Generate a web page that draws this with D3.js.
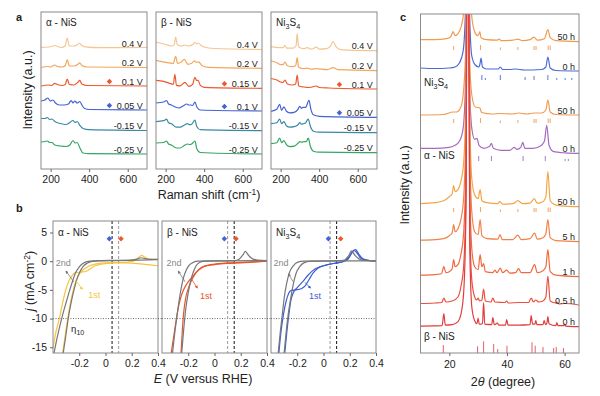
<!DOCTYPE html>
<html>
<head>
<meta charset="utf-8">
<script src="https://cdn.jsdelivr.net/npm/d3@7"></script>
<style>
  body { margin: 0; background: #fff; }
  text { font-family: "Liberation Sans", Arial, sans-serif; fill: #222; }
</style>
</head>
<body>
<svg id="fig" width="600" height="396"></svg>
<script>
// ---------- panel a : in-situ Raman ----------
const ramanPhases = ["α - NiS", "β - NiS", "Ni3S4"];
const alphaVolts = ["0.4 V", "0.2 V", "0.1 V", "0.05 V", "-0.15 V", "-0.25 V"];
const betaVolts = ["0.4 V", "0.2 V", "0.15 V", "0.1 V", "-0.15 V", "-0.25 V"];
const ni3s4Volts = ["0.4 V", "0.2 V", "0.1 V", "0.05 V", "-0.15 V", "-0.25 V"];
const ramanColors = ["#f6c590", "#f3a65d", "#ea5a2e", "#4663d3", "#3b8aa3", "#37a565"];
const alphaOffsets = [121, 101.5, 83, 59, 38.5, 15];
const betaOffsets = [119.5, 100.7, 80.7, 58, 38.3, 15];
const ni3s4Offsets = [118.3, 98.3, 80, 51.7, 36.3, 16.3];

// [Raman shift, height above baseline]
const alphaSpectra = [
  [[150,0.5],[190,1],[205,1.5],[221,2.5],[235,1.5],[255,0.5],[275,2],[286,10],[297,2],[320,2],[340,3.5],[350,5],[362,2.5],[390,0.8],[450,0.3],[700,0.5]],
  [[150,0],[185,1],[200,0.5],[221,2.5],[235,1],[260,0.5],[276,2],[286,8],[297,1.5],[320,1.5],[340,3],[351,4.7],[362,2],[390,0.5],[700,0]],
  [[150,0],[190,1],[205,0.5],[221,2.7],[235,1.5],[260,0.5],[276,1.5],[286,7],[297,1.5],[320,1],[340,3.5],[351,5.7],[362,2],[390,0.5],[700,0]],
  [[150,9],[170,10],[186,12],[198,9],[212,10],[225,7],[245,5],[270,5],[292,6],[300,8],[307,9.5],[316,7],[325,9],[338,7],[351,8.5],[365,4],[377,1.5],[400,0.5],[700,0]],
  [[150,12],[170,12],[183,13],[195,11],[207,11.5],[222,9],[250,7],[280,6],[300,8],[316,10],[327,8],[338,9],[352,5],[368,2],[400,0.8],[700,0]],
  [[150,12],[170,12.5],[183,13],[195,11.5],[207,11.5],[222,9],[250,8],[280,7.5],[300,9],[316,13.5],[327,11],[338,11.5],[352,6],[368,1],[400,0.3],[700,0]]
];
const betaSpectra = [
  [[150,7.5],[200,5],[235,3.5],[245,5],[252,12.5],[260,5],[280,3.5],[300,4.5],[320,3.5],[340,5],[352,7],[360,5.5],[370,6.5],[385,4],[400,2.5],[450,1],[700,0]],
  [[150,8],[200,6],[240,5],[252,12],[262,5],[280,6],[297,9],[315,4],[335,5],[350,7.5],[360,6],[370,6.5],[390,2.5],[420,1],[700,0]],
  [[150,8],[190,7],[220,5],[240,4],[248,14],[256,3],[275,2.5],[300,6],[320,2],[340,4],[352,11],[360,8],[368,8],[380,3],[400,1],[700,0]],
  [[150,8],[190,9],[205,10.5],[215,7],[230,6],[250,4],[270,3],[290,5],[310,7],[320,6],[330,6],[340,5.5],[352,9],[362,4],[380,1],[700,0]],
  [[150,9],[190,10],[205,11.5],[215,8],[230,7],[255,3.5],[275,3.5],[300,6],[312,7],[325,6],[335,6.5],[352,10.5],[362,4],[380,1],[700,0]],
  [[150,11],[190,11.5],[205,13],[215,10],[230,9],[255,6],[275,6],[300,9],[312,10],[325,9.5],[335,10],[352,13],[362,5],[380,1.5],[700,0]]
];
const ni3s4Spectra = [
  [[150,4],[190,3],[212,3],[222,5],[232,2.5],[265,2.5],[280,5],[286,17],[293,4],[320,2],[337,3],[360,1.5],[385,3.5],[400,1.5],[440,2],[460,5],[472,9],[488,4],[510,1],[550,0.5],[700,0]],
  [[150,10],[180,8],[200,6],[212,6],[222,8.5],[235,5],[260,4],[278,5],[286,13],[293,3.5],[320,2],[337,2.5],[360,1.5],[385,2],[440,1],[472,3],[500,1],[700,0]],
  [[150,10.5],[180,9],[200,7],[212,6.5],[222,9],[235,5],[260,4],[278,5],[286,14],[294,3],[320,2],[350,1.5],[385,3],[400,1.5],[450,1],[700,0]],
  [[150,6],[180,8],[195,13],[205,7],[217,10.5],[230,6],[247,4.5],[270,5],[290,8],[299,11],[308,9],[316,10],[330,10],[347,17],[357,8],[370,2.5],[400,1],[700,0]],
  [[150,9],[180,10],[195,13.5],[205,9],[217,11],[230,7],[247,5.5],[270,6],[290,8],[299,10],[308,8.5],[318,9],[330,10],[343,13.5],[355,6],[370,1.5],[400,0.5],[700,0]],
  [[150,9],[180,10],[195,14.5],[205,10],[217,12],[230,8],[247,6],[270,6.5],[290,9.5],[300,11],[310,10.5],[320,11],[333,11],[343,14.5],[355,6],[370,1.5],[400,0.5],[700,0]]
];
const ramanTicks = [200, 400, 600];

// ---------- panel b : LSV ----------
const lsvTicksX = [-0.2, 0, 0.2, 0.4];
const lsvTicksY = [5, 0, -5, -10, -15];
const lsvColors = ["#f5c53f", "#e9542b", "#3d5dd2"];
// [E, j]
const alpha2ndA = [[-0.392,-16],[-0.37,-13.5],[-0.334,-10],[-0.30,-7.2],[-0.272,-5],[-0.25,-3.4],[-0.23,-2.1],[-0.20,-1.0],[-0.17,-0.35],[-0.12,0],[-0.05,0.1],[0.1,0.15],[0.2,0.2],[0.24,0.35],[0.27,0.6],[0.3,0.45],[0.34,0.3],[0.4,0.3]];
const alpha2ndB = [[-0.322,-16],[-0.30,-12.6],[-0.284,-10],[-0.26,-7],[-0.24,-5],[-0.22,-3.3],[-0.196,-1.9],[-0.17,-0.9],[-0.14,-0.35],[-0.10,-0.05],[-0.05,0.05],[0.1,0.1],[0.25,0.2],[0.4,0.25]];
const alpha1stA = [[-0.40,-15.2],[-0.38,-12.6],[-0.352,-10],[-0.33,-7.6],[-0.305,-5.2],[-0.28,-3.5],[-0.255,-2.5],[-0.23,-2.0],[-0.19,-1.9],[-0.15,-1.8],[-0.12,-1.4],[-0.08,-0.8],[-0.03,-0.5],[0.05,-0.3],[0.15,-0.2],[0.21,0],[0.25,0.6],[0.275,1.0],[0.3,0.7],[0.34,0.35],[0.4,0.3]];
const alpha1stB = [[-0.326,-16],[-0.305,-12.6],[-0.288,-10],[-0.265,-7],[-0.245,-5],[-0.225,-3.4],[-0.2,-2.3],[-0.17,-1.5],[-0.13,-0.9],[-0.08,-0.5],[0,-0.3],[0.1,-0.25],[0.2,-0.35],[0.3,-0.55],[0.4,-0.8]];
const beta2ndA = [[-0.32,-16],[-0.30,-12],[-0.28,-8.5],[-0.26,-5.5],[-0.24,-3.2],[-0.22,-1.8],[-0.20,-0.9],[-0.17,-0.3],[-0.13,0],[0,0.05],[0.15,0.1],[0.19,0.4],[0.22,1.2],[0.235,1.7],[0.26,1.0],[0.29,0.4],[0.33,0.2],[0.4,0.1]];
const beta2ndB = [[-0.25,-16],[-0.235,-12],[-0.22,-8.5],[-0.20,-5.5],[-0.18,-3.3],[-0.16,-1.8],[-0.14,-0.8],[-0.11,-0.2],[-0.07,0],[0.1,0.05],[0.4,0.1]];
const beta1stA = [[-0.33,-16],[-0.31,-13],[-0.29,-10],[-0.27,-7.5],[-0.25,-5.8],[-0.22,-4.3],[-0.19,-3.3],[-0.16,-2.5],[-0.12,-1.5],[-0.08,-0.9],[0,-0.6],[0.1,-0.4],[0.2,-0.3],[0.3,-0.15],[0.4,0]];
const beta1stB = [[-0.255,-16],[-0.245,-12],[-0.235,-9],[-0.22,-6.5],[-0.20,-4.8],[-0.18,-3.6],[-0.15,-2.3],[-0.12,-1.5],[-0.08,-0.9],[0,-0.5],[0.1,-0.3],[0.2,-0.2],[0.3,-0.1],[0.4,0]];
const ni3s42ndA = [[-0.345,-16],[-0.33,-12.5],[-0.315,-9.5],[-0.30,-6.5],[-0.28,-3.8],[-0.26,-2.0],[-0.23,-0.8],[-0.20,-0.2],[-0.15,0],[0.1,0.05],[0.16,0.2],[0.19,0.9],[0.214,1.8],[0.24,1.0],[0.27,0.4],[0.31,0.15],[0.4,0.1]];
const ni3s42ndB = [[-0.30,-16],[-0.285,-12.5],[-0.27,-9.5],[-0.25,-6.5],[-0.23,-4],[-0.21,-2.2],[-0.18,-0.9],[-0.15,-0.3],[-0.10,0],[0.1,0.05],[0.4,0.05]];
const ni3s41stA = [[-0.34,-16],[-0.325,-12.5],[-0.306,-9.4],[-0.285,-7],[-0.265,-5.6],[-0.245,-5.1],[-0.21,-5.0],[-0.17,-4.8],[-0.14,-4.3],[-0.11,-3.2],[-0.08,-2.1],[-0.04,-1.2],[0.02,-0.7],[0.1,-0.3],[0.15,-0.1],[0.19,0.6],[0.22,1.6],[0.245,2.0],[0.27,1.2],[0.30,0.4],[0.35,0.1],[0.4,0]];
const ni3s41stB = [[-0.295,-16],[-0.28,-12.5],[-0.265,-9.5],[-0.25,-7],[-0.23,-5.5],[-0.20,-4.6],[-0.16,-3.6],[-0.12,-2.5],[-0.08,-1.6],[-0.03,-1.0],[0.05,-0.5],[0.12,-0.2],[0.18,0.2],[0.21,1.2],[0.23,1.9],[0.25,1.6],[0.28,0.6],[0.32,0.2],[0.4,0.05]];
const lsvGuides = [[0.05, 0.1], [0.1, 0.15], [0.05, 0.1]];
const lsvGuideDark = [0, 1, 1];          // which guide is drawn black
const lsvMarkerE = [[0.029, 0.118], [0.075, 0.164], [0.037, 0.131]];
const lsvMarkerJ = 3.9;
// label anchor [E, j] and arrow [from, to]
const label2nd = [[-0.322, -0.9], [-0.308, -0.9], [-0.324, -0.9]];
const arrow2nd = [[[-0.242,-3.6],[-0.302,-1.7]], [[-0.224,-3.6],[-0.277,-1.7]], [[-0.23,-3.6],[-0.268,-2.2]]];
const label1st = [[-0.085, -6.5], [-0.064, -6.6], [-0.065, -6.6]];
const arrow1st = [[[-0.226,-3.4],[-0.176,-4.9]], [[-0.173,-3.2],[-0.13,-4.7]], [[-0.141,-3.7],[-0.098,-4.7]]];

// ---------- panel c : XRD ----------
const xrdTicks = [20, 40, 60];
const xrdLabels = ["50 h", "0 h", "50 h", "0 h", "50 h", "5 h", "1 h", "0.5 h", "0 h"];
const xrdColors = ["#f19b50", "#4a6bd6", "#f19b50", "#a46cc0", "#f5a445", "#f2824a", "#ef6a3f", "#e9503f", "#e23c3c"];
const xrdOffsets = [311.3, 282, 238, 199.7, 146.3, 111.3, 76.3, 48, 26.3];
// [2theta, height above baseline]
const ni3s4Aged = [[10,2],[15,2],[19,3],[20.5,5],[21.3,10],[22,6],[23,8],[24,14],[25,30],[25.8,90],[26.2,400],[26.6,400],[27.1,80],[27.8,25],[28.8,10],[29.8,6],[30.3,8],[30.6,10],[31,4],[33,2],[36.5,1.5],[37.3,2.5],[38,1],[42,1.5],[43.8,2.5],[45.5,1],[48,2],[49.4,4.5],[50.5,1.5],[53,3],[54.2,12],[55,4],[57,1],[65,0]];
const ni3s4Fresh = [[10,3],[15,2.5],[20,3],[22,4],[23.5,8],[24.8,20],[25.6,60],[26.1,400],[26.5,400],[27,60],[27.8,15],[29,6],[30.3,4],[30.7,8],[31,13],[31.5,4],[33,2],[37,2],[37.7,4],[38.5,1.5],[41,1.5],[43,2],[46,1],[52,1.5],[53.5,4],[54.2,14],[55,3],[57,0.5],[65,0]];
const alphaAged = [[10,0],[18,0.5],[21.3,3],[22.5,3],[24,8],[24.8,20],[25.6,60],[26.1,400],[26.5,400],[27,60],[27.8,20],[29,8],[30.6,7],[31.2,2.5],[35,1],[37.5,1.5],[42,1],[44,2],[47,1],[49.4,2],[52,2],[53.5,5],[54.2,15],[55,3],[57,0.5],[65,0]];
const alphaFresh = [[10,5],[15,5],[20,6],[22,8],[23.5,12],[24.8,25],[25.6,70],[26.1,400],[26.5,400],[27,70],[27.8,25],[28.8,14],[29.6,15],[30.3,8],[32,5],[34,7],[34.6,10],[35.3,5],[38,3],[41,3],[42.5,6],[43.5,4],[44.8,6],[45.5,11],[46.2,5],[49,5],[51.5,7],[53,12],[53.8,28],[54.6,8],[56,2],[60,0.5],[65,0]];
const beta50h = [[10,3],[15,4],[18,6],[20,10],[21,13],[21.5,21],[22,15],[23,17],[24,25],[25,45],[25.8,120],[26.2,400],[26.6,400],[27.1,90],[27.8,28],[28.8,12],[30,8],[30.7,17],[31.3,6],[33,4],[36.7,3],[37.5,5],[38.5,2.5],[42,3],[43.8,6],[45.5,3],[48,3.5],[49.5,8],[50.5,3.5],[52.5,5],[53.5,10],[54.2,35],[55,6],[57,1.5],[60,0.5],[65,0]];
const beta5h = [[10,1.5],[15,2],[18,3],[20,6],[21,9],[21.5,17],[22,10],[23,13],[24,22],[25,45],[25.8,120],[26.2,400],[26.6,400],[27.1,90],[27.8,30],[28.8,10],[30,7],[30.7,22],[31.3,6],[33,3],[36.8,2.5],[37.6,7],[38.4,2],[42,2],[43.8,6.5],[45,2],[48,3],[49.6,8.5],[50.5,2.5],[52.5,4],[53.5,8],[54.2,22],[55,4],[57,1],[65,0]];
const beta1h = [[10,1.5],[15,2],[17.3,3],[18.1,10],[18.8,4],[20,5],[21,8],[21.5,17],[22,10],[23,12],[24,22],[25,45],[25.8,120],[26.2,400],[26.6,400],[27.1,90],[27.8,28],[28.8,10],[30,7],[30.7,22],[31.3,10],[31.9,13],[32.5,5],[35,4],[35.9,6.5],[36.5,4],[37.7,8.5],[38.5,4],[39.9,6.5],[41,3.5],[43,4],[44,8],[45,4],[48,4],[49.6,12],[50.5,4],[52.5,6],[53.5,10],[54.2,27],[55,5],[57,1.5],[65,0]];
const beta05h = [[10,1.5],[15,2],[17.4,2.5],[18.1,7],[18.8,3],[21,4],[23,8],[24,18],[25,40],[25.8,120],[26.2,400],[26.6,400],[27.1,80],[27.8,25],[28.8,8],[29.5,5],[30,7],[30.5,4],[31.3,5],[31.9,16],[32.5,4],[34.5,3],[35.1,7],[35.8,3],[39.3,2.5],[39.9,4],[40.5,2],[44,2.5],[47.5,2.5],[48.4,7],[49.2,3],[50,5],[51,3],[52.5,4],[53.5,8],[54.2,29],[55,4],[57,2],[57.3,3],[58,1],[60,1.5],[65,0]];
const beta0h = [[10,0.5],[15,0.8],[17.5,1],[18.1,13],[18.6,1.5],[21,2],[23,5],[24,12],[25,35],[25.8,120],[26.2,400],[26.6,400],[27.1,80],[27.8,20],[28.8,6],[29.6,3],[30,8.5],[30.4,2.5],[31.5,3],[31.9,24],[32.3,2.5],[34.7,2],[35.1,9],[35.6,2],[36.7,3.5],[37.2,1.5],[39.5,1.5],[39.9,7],[40.4,1.5],[44,1.5],[48,2],[48.4,11],[48.9,2.5],[49.7,2.5],[50,6],[50.4,2],[52.5,2],[52.9,6],[53.4,2],[53.9,4],[54.2,10],[54.6,3],[57,1],[57.3,4],[57.7,1],[59.7,1],[60,2.5],[60.4,0.5],[65,0]];
const xrdPatterns = [ni3s4Aged, ni3s4Fresh, alphaAged, alphaFresh, beta50h, beta5h, beta1h, beta05h, beta0h];
// reference sticks [2theta, height]
const agedRefTicks = [[21.5,4],[30.8,5],[37.7,2.5],[43.8,3],[49.4,4],[50.1,4],[54.3,4.5],[55,4.5]];
const agedRefBases = [303, 230, 141];
const ni3s4RefTicks = [[31.3,5],[32.5,2],[37.7,5],[46.3,3],[49.4,4],[54.2,5],[57.3,2],[60.2,2],[62.5,2]];
const ni3s4RefBase = 273;
const alphaRefTicks = [[30.2,5],[34.6,5],[45.6,5],[53.3,5],[60.2,2],[61.3,2]];
const alphaRefBase = 192;
const betaRefTicks = [[17.9,8],[29.8,6.7],[31.9,11.7],[35.4,9],[36.8,4],[40,7.3],[48.7,10.7],[49.8,7.3],[52.5,6],[56.2,5],[57.1,6],[59.6,5]];
const betaRefBase = 0;

// ---------- drawing ----------
const svg = d3.select("#fig");
const frameColor = "#8a8a8a";
const defs = svg.append("defs");
let clipId = 0;

function clipRect(x, y, w, h) {
  const id = "clip" + (clipId++);
  defs.append("clipPath").attr("id", id).append("rect")
    .attr("x", x).attr("y", y).attr("width", w).attr("height", h);
  return "url(#" + id + ")";
}

function phaseText(g, name, x, y, size) {
  const t = g.append("text").attr("x", x).attr("y", y).attr("font-size", size);
  if (name === "Ni3S4") {
    const s = size * 0.28;
    t.append("tspan").text("Ni");
    t.append("tspan").attr("dy", s).attr("font-size", size * 0.72).text("3");
    t.append("tspan").attr("dy", -s).text("S");
    t.append("tspan").attr("dy", s).attr("font-size", size * 0.72).text("4");
  } else {
    t.text(name);
  }
  return t;
}

function styleAxis(g, size) {
  g.select(".domain").remove();
  g.selectAll(".tick line").attr("stroke", "#666");
  g.selectAll(".tick text").attr("font-size", size).attr("fill", "#222")
    .attr("font-family", "Liberation Sans, Arial, sans-serif");
}

const plainFmt = d => String(d);
// small rotated-square marker used for the chosen potentials
const markSymbol = d3.symbol(d3.symbolSquare, 15);

// panel a
const ramanLeft = [41, 156, 271], ramanW = 106, ramanTop = 12, ramanBottom = 169;
const ramanVolts = [alphaVolts, betaVolts, ni3s4Volts];
const ramanOffsets = [alphaOffsets, betaOffsets, ni3s4Offsets];
const ramanSpectra = [alphaSpectra, betaSpectra, ni3s4Spectra];
const ramanY = d3.scaleLinear().domain([0, 157]).range([ramanBottom, ramanTop]);

ramanPhases.forEach((name, i) => {
  const x = d3.scaleLinear().domain([150, 700]).range([ramanLeft[i], ramanLeft[i] + ramanW]);
  const g = svg.append("g");
  const line = off => d3.line().x(d => x(d[0])).y(d => ramanY(off + d[1])).curve(d3.curveMonotoneX);
  g.append("g").attr("clip-path", clipRect(ramanLeft[i], ramanTop, ramanW, ramanBottom - ramanTop))
    .selectAll("path").data(ramanSpectra[i]).join("path")
    .attr("d", (s, k) => line(ramanOffsets[i][k])(s))
    .attr("fill", "none")
    .attr("stroke", (s, k) => ramanColors[k])
    .attr("stroke-width", 1.2);
  g.selectAll("text.volt").data(ramanVolts[i]).join("text").attr("class", "volt")
    .attr("x", x(678)).attr("y", (v, k) => ramanY(ramanOffsets[i][k] + 4.5))
    .attr("dy", "0.35em").attr("text-anchor", "end").attr("font-size", 9).text(v => v);
  g.selectAll("path.mark").data([2, 3]).join("path").attr("class", "mark")
    .attr("d", markSymbol)
    .attr("transform", k => `translate(${x(505)},${ramanY(ramanOffsets[i][k] + 4.5)}) rotate(45)`)
    .attr("fill", k => ramanColors[k]);
  phaseText(g, name, ramanLeft[i] + 5, 26, 10);
  g.append("rect").attr("x", ramanLeft[i]).attr("y", ramanTop)
    .attr("width", ramanW).attr("height", ramanBottom - ramanTop)
    .attr("fill", "none").attr("stroke", frameColor);
  g.append("g").attr("transform", `translate(0,${ramanBottom})`)
    .call(d3.axisBottom(x).tickValues(ramanTicks).tickSize(3).tickPadding(4).tickFormat(plainFmt))
    .call(a => styleAxis(a, 10.5));
});

svg.append("text").attr("x", 16).attr("y", 21).attr("font-size", 11).attr("font-weight", "bold").text("a");
svg.append("text").attr("transform", "translate(32,90) rotate(-90)").attr("text-anchor", "middle")
  .attr("font-size", 12.5).text("Intensity (a.u.)");
const ramanLabel = svg.append("text").attr("x", 209).attr("y", 199).attr("text-anchor", "middle").attr("font-size", 12.5);
ramanLabel.append("tspan").text("Raman shift (cm");
ramanLabel.append("tspan").attr("dy", -4).attr("font-size", 8.5).text("-1");
ramanLabel.append("tspan").attr("dy", 4).text(")");

// panel b
const lsvLeft = [53, 162, 271], lsvW = 105, lsvTop = 221, lsvBottom = 353;
const lsvY = d3.scaleLinear().domain([-16, 7]).range([lsvBottom, lsvTop]);
const lsvGray = [[alpha2ndA, alpha2ndB], [beta2ndA, beta2ndB], [ni3s42ndA, ni3s42ndB]];
const lsvFirst = [[alpha1stA, alpha1stB], [beta1stA, beta1stB], [ni3s41stA, ni3s41stB]];

function arrowMarker(color, id) {
  defs.append("marker").attr("id", id).attr("viewBox", "0 0 6 6").attr("refX", 5).attr("refY", 3)
    .attr("markerWidth", 4).attr("markerHeight", 4).attr("orient", "auto")
    .append("path").attr("d", "M0,0L6,3L0,6Z").attr("fill", color);
}
arrowMarker("#777", "arrGray");
lsvColors.forEach((c, i) => arrowMarker(c, "arr" + i));

ramanPhases.forEach((name, i) => {
  const x = d3.scaleLinear().domain([-0.4, 0.4]).range([lsvLeft[i], lsvLeft[i] + lsvW]);
  const g = svg.append("g");
  const line = d3.line().x(d => x(d[0])).y(d => lsvY(d[1])).curve(d3.curveMonotoneX);
  const plot = g.append("g").attr("clip-path", clipRect(lsvLeft[i], lsvTop, lsvW, lsvBottom - lsvTop));
  plot.append("line").attr("x1", x(-0.4)).attr("x2", x(0.4)).attr("y1", lsvY(-10)).attr("y2", lsvY(-10))
    .attr("stroke", "#444").attr("stroke-width", 0.8).attr("stroke-dasharray", "1,1.5");
  plot.selectAll("line.guide").data(lsvGuides[i]).join("line").attr("class", "guide")
    .attr("x1", d => x(d)).attr("x2", d => x(d)).attr("y1", lsvTop).attr("y2", lsvBottom)
    .attr("stroke", (d, k) => k === lsvGuideDark[i] ? "#111" : "#999")
    .attr("stroke-width", 1).attr("stroke-dasharray", "3,2");
  plot.selectAll("path.first").data(lsvFirst[i]).join("path").attr("class", "first")
    .attr("d", line).attr("fill", "none").attr("stroke", lsvColors[i]).attr("stroke-width", 1.2);
  plot.selectAll("path.second").data(lsvGray[i]).join("path").attr("class", "second")
    .attr("d", line).attr("fill", "none").attr("stroke", "#777").attr("stroke-width", 1.2);
  g.selectAll("path.mark").data(lsvMarkerE[i]).join("path").attr("class", "mark")
    .attr("d", markSymbol)
    .attr("transform", d => `translate(${x(d)},${lsvY(lsvMarkerJ)}) rotate(45)`)
    .attr("fill", (d, k) => k === 0 ? ramanColors[3] : ramanColors[2]);
  // annotations
  g.append("text").attr("x", x(label2nd[i][0])).attr("y", lsvY(label2nd[i][1]))
    .attr("text-anchor", "middle").attr("font-size", 9).style("fill", "#888").text("2nd");
  g.append("line").attr("x1", x(arrow2nd[i][0][0])).attr("y1", lsvY(arrow2nd[i][0][1]))
    .attr("x2", x(arrow2nd[i][1][0])).attr("y2", lsvY(arrow2nd[i][1][1]))
    .attr("stroke", "#777").attr("stroke-width", 0.8).attr("marker-end", "url(#arrGray)");
  g.append("text").attr("x", x(label1st[i][0])).attr("y", lsvY(label1st[i][1]))
    .attr("text-anchor", "middle").attr("font-size", 9).style("fill", lsvColors[i]).text("1st");
  g.append("line").attr("x1", x(arrow1st[i][0][0])).attr("y1", lsvY(arrow1st[i][0][1]))
    .attr("x2", x(arrow1st[i][1][0])).attr("y2", lsvY(arrow1st[i][1][1]))
    .attr("stroke", lsvColors[i]).attr("stroke-width", 0.8).attr("marker-end", `url(#arr${i})`);
  if (i === 0) {
    const eta = g.append("text").attr("x", x(-0.262)).attr("y", lsvY(-12.4)).attr("font-size", 9.5);
    eta.append("tspan").text("η");
    eta.append("tspan").attr("dy", 2.5).attr("font-size", 7).text("10");
  }
  phaseText(g, name, lsvLeft[i] + 5, 236, 10);
  g.append("rect").attr("x", lsvLeft[i]).attr("y", lsvTop)
    .attr("width", lsvW).attr("height", lsvBottom - lsvTop)
    .attr("fill", "none").attr("stroke", frameColor);
  g.append("g").attr("transform", `translate(0,${lsvBottom})`)
    .call(d3.axisBottom(x).tickValues(lsvTicksX).tickSize(3).tickPadding(4).tickFormat(plainFmt))
    .call(a => styleAxis(a, 10.5));
  if (i === 0) {
    g.append("g").attr("transform", `translate(${lsvLeft[0]},0)`)
      .call(d3.axisLeft(lsvY).tickValues(lsvTicksY).tickSize(3).tickPadding(3).tickFormat(plainFmt))
      .call(a => styleAxis(a, 10.5));
  }
});
// dotted -10 line bridging the panel gaps
svg.selectAll("line.gap").data([[lsvLeft[0] + lsvW, lsvLeft[1]], [lsvLeft[1] + lsvW, lsvLeft[2]]]).join("line")
  .attr("class", "gap").attr("x1", d => d[0]).attr("x2", d => d[1])
  .attr("y1", lsvY(-10)).attr("y2", lsvY(-10))
  .attr("stroke", "#444").attr("stroke-width", 0.8).attr("stroke-dasharray", "1,1.5");

svg.append("text").attr("x", 16).attr("y", 212).attr("font-size", 11).attr("font-weight", "bold").text("b");
const jLabel = svg.append("text").attr("transform", "translate(34,281) rotate(-90)")
  .attr("text-anchor", "middle").attr("font-size", 12.5);
jLabel.append("tspan").attr("font-style", "italic").text("j");
jLabel.append("tspan").text(" (mA cm");
jLabel.append("tspan").attr("dy", -4).attr("font-size", 8.5).text("-2");
jLabel.append("tspan").attr("dy", 4).text(")");
const eLabel = svg.append("text").attr("x", 203).attr("y", 383).attr("text-anchor", "middle").attr("font-size", 12.5);
eLabel.append("tspan").attr("font-style", "italic").text("E");
eLabel.append("tspan").text(" (V versus RHE)");

// panel c
const xrdLeft = 420.5, xrdRight = 579, xrdTop = 14, xrdBottom = 353;
const xrdX = d3.scaleLinear().domain([10, 65]).range([xrdLeft, xrdRight]);
const xrdY = d3.scaleLinear().domain([0, xrdBottom - xrdTop]).range([xrdBottom, xrdTop]);
const gc = svg.append("g");
const xrdPlot = gc.append("g").attr("clip-path", clipRect(xrdLeft, xrdTop, xrdRight - xrdLeft, xrdBottom - xrdTop));
xrdPlot.selectAll("path.pattern").data(xrdPatterns).join("path").attr("class", "pattern")
  .attr("d", (s, k) => d3.line().x(d => xrdX(d[0])).y(d => xrdY(xrdOffsets[k] + d[1])).curve(d3.curveMonotoneX)(s))
  .attr("fill", "none").attr("stroke", (s, k) => xrdColors[k]).attr("stroke-width", 1.2);

function refSticks(ticks, base, color) {
  xrdPlot.append("g").selectAll("line").data(ticks).join("line")
    .attr("x1", d => xrdX(d[0])).attr("x2", d => xrdX(d[0]))
    .attr("y1", xrdY(base)).attr("y2", d => xrdY(base + d[1]))
    .attr("stroke", color).attr("stroke-width", 1);
}
agedRefBases.forEach(b => refSticks(agedRefTicks, b, "#f1a260"));
refSticks(ni3s4RefTicks, ni3s4RefBase, "#5a78dc");
refSticks(alphaRefTicks, alphaRefBase, "#a77cc4");
refSticks(betaRefTicks, betaRefBase, "#e5606a");

gc.selectAll("text.hours").data(xrdLabels).join("text").attr("class", "hours")
  .attr("x", xrdX(63.6)).attr("y", (v, k) => xrdY(xrdOffsets[k] + 4.5))
  .attr("dy", "0.35em").attr("text-anchor", "end").attr("font-size", 9).text(v => v);
phaseText(gc, "Ni3S4", xrdX(11.2), xrdY(267), 10);
phaseText(gc, "α - NiS", xrdX(11.2), xrdY(194), 10);
phaseText(gc, "β - NiS", xrdX(11.2), xrdY(13), 10);
gc.append("rect").attr("x", xrdLeft).attr("y", xrdTop)
  .attr("width", xrdRight - xrdLeft).attr("height", xrdBottom - xrdTop)
  .attr("fill", "none").attr("stroke", frameColor);
gc.append("g").attr("transform", `translate(0,${xrdBottom})`)
  .call(d3.axisBottom(xrdX).tickValues(xrdTicks).tickSize(3).tickPadding(5).tickFormat(plainFmt))
  .call(a => styleAxis(a, 10.5));

svg.append("text").attr("x", 400).attr("y", 21).attr("font-size", 11).attr("font-weight", "bold").text("c");
svg.append("text").attr("transform", "translate(409,185) rotate(-90)").attr("text-anchor", "middle")
  .attr("font-size", 12.5).text("Intensity (a.u.)");
const tLabel = svg.append("text").attr("x", 503).attr("y", 386).attr("text-anchor", "middle").attr("font-size", 12.5);
tLabel.append("tspan").text("2");
tLabel.append("tspan").attr("font-style", "italic").text("θ");
tLabel.append("tspan").text(" (degree)");
</script>
</body>
</html>
